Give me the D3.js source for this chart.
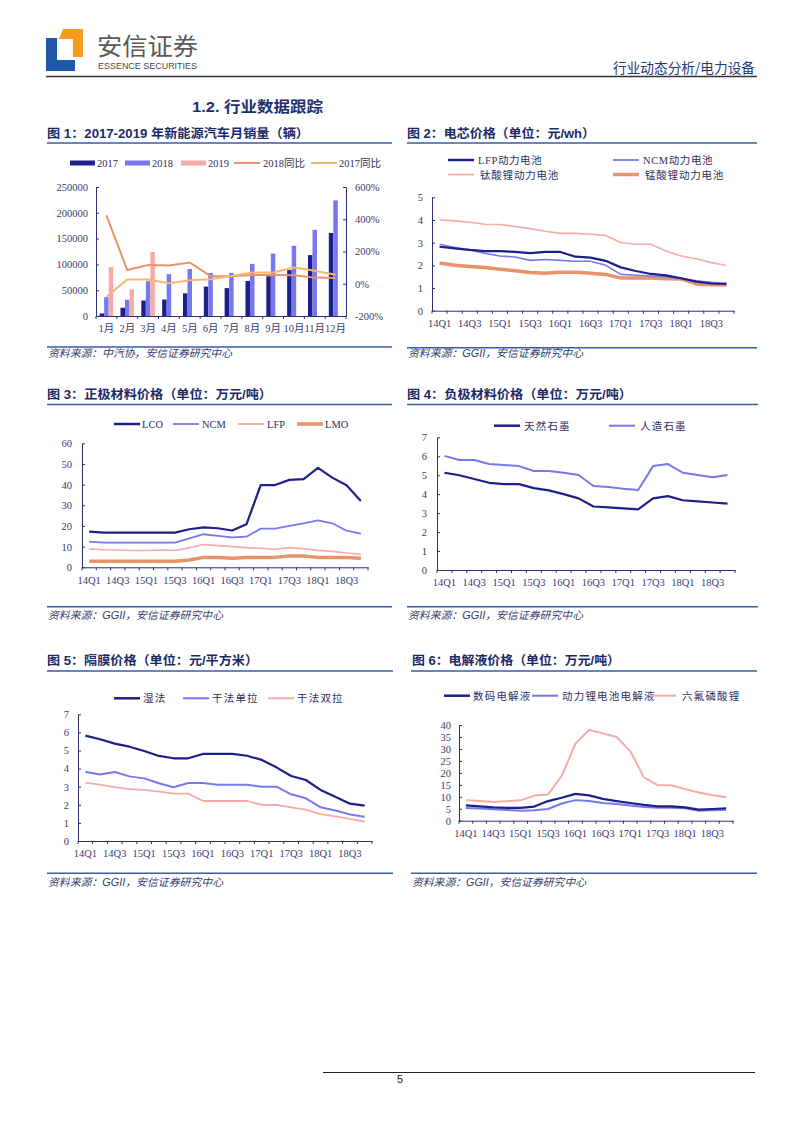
<!DOCTYPE html>
<html><head><meta charset="utf-8">
<script src="https://cdn.jsdelivr.net/npm/d3@7/dist/d3.min.js"></script>
<style>body{margin:0;background:#fff;} svg{display:block;}</style>
</head><body>
<svg id="page" width="802" height="1133"></svg>
<script>
// ---------------- DATA ----------------
const months = ["1月","2月","3月","4月","5月","6月","7月","8月","9月","10月","11月","12月"];
const sales2017 = [5000, 16000, 30000, 32000, 44000, 57000, 54000, 68000, 77000, 89000, 118000, 161000];
const sales2018 = [36500, 31500, 67500, 81000, 91000, 83500, 83500, 101000, 121000, 136000, 167000, 224000];
const sales2019 = [95000, 51500, 124000];
const yoy2018 = [424, 85, 116, 113, 132, 47, 47, 55, 55, 52, 38, 36];
const yoy2017 = [-80, 26, 26, 3, 21, 28, 48, 70, 70, 100, 80, 56];
const salesTicks = [0, 50000, 100000, 150000, 200000, 250000];
const yoyTicks = [-200, 0, 200, 400, 600];

const quarters = ["14Q1","14Q2","14Q3","14Q4","15Q1","15Q2","15Q3","15Q4","16Q1","16Q2","16Q3","16Q4","17Q1","17Q2","17Q3","17Q4","18Q1","18Q2","18Q3","18Q4"];
const quarterLabels = ["14Q1","14Q3","15Q1","15Q3","16Q1","16Q3","17Q1","17Q3","18Q1","18Q3"];

const cellLFP = [2.82, 2.75, 2.68, 2.63, 2.63, 2.59, 2.54, 2.59, 2.59, 2.38, 2.34, 2.2, 1.91, 1.75, 1.62, 1.56, 1.43, 1.28, 1.2, 1.18];
const cellNCM = [2.93, 2.78, 2.68, 2.53, 2.41, 2.37, 2.22, 2.26, 2.22, 2.18, 2.18, 2.0, 1.6, 1.56, 1.53, 1.5, 1.41, 1.32, 1.25, 1.2];
const cellLTO = [4.0, 3.96, 3.9, 3.81, 3.8, 3.71, 3.62, 3.5, 3.41, 3.41, 3.37, 3.32, 3.01, 2.93, 2.93, 2.63, 2.41, 2.29, 2.12, 1.99];
const cellLMO = [2.1, 2.0, 1.95, 1.9, 1.83, 1.76, 1.68, 1.65, 1.7, 1.69, 1.65, 1.6, 1.44, 1.44, 1.44, 1.41, 1.4, 1.18, 1.14, 1.13];
const cellTicks = [0, 1, 2, 3, 4, 5];

const cathLCO = [17.3, 16.8, 16.8, 16.8, 16.8, 16.8, 16.8, 18.4, 19.3, 18.9, 17.8, 20.8, 39.8, 39.8, 42.3, 42.7, 48.1, 43.4, 39.7, 32.1];
const cathNCM = [12.4, 11.9, 11.9, 11.9, 11.9, 11.9, 11.9, 14.0, 16.0, 15.2, 14.5, 14.8, 18.7, 18.7, 20.0, 21.3, 22.7, 21.3, 17.7, 16.3];
const cathLFP = [8.9, 8.5, 8.4, 8.1, 8.1, 8.4, 8.1, 9.5, 11.0, 10.5, 10.0, 9.5, 9.2, 8.7, 9.5, 9.0, 8.2, 7.7, 6.9, 6.3];
const cathLMO = [2.9, 2.9, 2.9, 2.9, 2.9, 2.9, 2.9, 3.5, 4.8, 4.8, 4.4, 4.8, 4.8, 4.8, 5.5, 5.5, 4.8, 4.8, 4.8, 4.4];
const cathTicks = [0, 10, 20, 30, 40, 50, 60];

const anodeNatural = [5.13, 5.0, 4.8, 4.6, 4.53, 4.53, 4.32, 4.2, 4.0, 3.78, 3.35, 3.3, 3.25, 3.2, 3.78, 3.9, 3.68, 3.62, 3.56, 3.5];
const anodeArtificial = [6.02, 5.8, 5.8, 5.59, 5.54, 5.48, 5.22, 5.22, 5.13, 5.01, 4.43, 4.38, 4.29, 4.22, 5.48, 5.59, 5.13, 5.01, 4.89, 5.01];
const anodeTicks = [0, 1, 2, 3, 4, 5, 6, 7];

const sepWet = [5.82, 5.62, 5.38, 5.21, 4.97, 4.7, 4.57, 4.57, 4.81, 4.81, 4.81, 4.71, 4.48, 4.07, 3.59, 3.37, 2.82, 2.45, 2.06, 1.95];
const sepDrySingle = [3.83, 3.68, 3.81, 3.57, 3.46, 3.19, 2.97, 3.2, 3.2, 3.11, 3.11, 3.11, 3.0, 3.0, 2.58, 2.36, 1.86, 1.69, 1.47, 1.34];
const sepDryDouble = [3.22, 3.11, 2.98, 2.87, 2.82, 2.73, 2.62, 2.62, 2.21, 2.21, 2.21, 2.21, 2.0, 1.99, 1.86, 1.73, 1.49, 1.36, 1.22, 1.07];
const sepTicks = [0, 1, 2, 3, 4, 5, 6, 7];

const elecDigital = [6.4, 6.0, 5.6, 5.4, 5.4, 5.9, 8.2, 9.6, 11.2, 10.6, 9.1, 8.2, 7.4, 6.6, 6.0, 6.0, 5.6, 4.6, 4.9, 5.2];
const elecPower = [5.3, 5.1, 4.8, 4.5, 4.2, 4.4, 4.9, 7.2, 8.6, 8.2, 7.4, 7.0, 6.4, 5.7, 5.4, 5.4, 5.2, 4.2, 4.4, 4.6];
const elecLiPF6 = [8.6, 8.2, 7.8, 8.1, 8.5, 10.5, 10.9, 18.8, 32.2, 37.9, 36.5, 35.0, 29.1, 18.1, 14.9, 14.8, 13.2, 11.8, 10.6, 9.8];
const elecTicks = [0, 5, 10, 15, 20, 25, 30, 35, 40];

// ---------------- STYLE ----------------
const SERIF = "'Liberation Serif','Times New Roman','Noto Sans CJK SC',serif";
const CJK = "'Noto Sans CJK SC',sans-serif";
const SANS = "'Liberation Sans',Arial,'Noto Sans CJK SC',sans-serif";
const NAVY = "#1c2088", BLUE = "#7878ee", PINK = "#f7aaa6", SALMON = "#e8936c", ORANGE = "#f6b66c";
const AXIS_C = "#2c3070", TEXT_C = "#3a3a70", TITLE_C = "#1b2a66", RULE_C = "#3b5aa8", SRC_C = "#333a6e";

const svg = d3.select("#page");

// ---------------- HEADER ----------------
svg.append("polygon").attr("points","46,38 57,38 57,60 75,60 75,71 46,71").attr("fill","#1f58a8");
svg.append("polygon").attr("points","63,29 83,29 83,57 73,57 73,39 59,39").attr("fill","#f39c1f");
svg.append("text").attr("x",97).attr("y",55).attr("font-family",CJK).attr("font-size",24)
  .attr("fill","#5a5a5a").attr("textLength",101).attr("lengthAdjust","spacingAndGlyphs").text("安信证券");
svg.append("text").attr("x",98).attr("y",69).attr("font-family",SANS).attr("font-size",9.5)
  .attr("fill","#4a4a4a").attr("textLength",99).attr("lengthAdjust","spacingAndGlyphs").text("ESSENCE SECURITIES");
svg.append("text").attr("x",613).attr("y",73).attr("font-family",CJK).attr("font-size",13.5)
  .attr("fill","#24387a").attr("textLength",142).attr("lengthAdjust","spacingAndGlyphs").text("行业动态分析/电力设备");
svg.append("line").attr("x1",46).attr("x2",757).attr("y1",76.5).attr("y2",76.5).attr("stroke","#333").attr("stroke-width",1.5);

svg.append("text").attr("x",192).attr("y",112).attr("font-family",SANS).attr("font-weight","bold").attr("font-size",15)
  .attr("fill","#1f3070").attr("textLength",131).attr("lengthAdjust","spacingAndGlyphs").text("1.2. 行业数据跟踪");

// footer
svg.append("line").attr("x1",323).attr("x2",755).attr("y1",1072.5).attr("y2",1072.5).attr("stroke","#222").attr("stroke-width",1);
svg.append("text").attr("x",400).attr("y",1083).attr("text-anchor","middle").attr("font-family",SANS).attr("font-size",11).attr("fill","#222").text("5");

// ---------------- HELPERS ----------------
function chartTitle(txt, x, y, w, lx1, lx2, ly) {
  svg.append("text").attr("x",x).attr("y",y).attr("font-family",SANS).attr("font-weight","bold").attr("font-size",12.5)
    .attr("fill",TITLE_C).attr("textLength",w).attr("lengthAdjust","spacingAndGlyphs").text(txt);
  svg.append("line").attr("x1",lx1).attr("x2",lx2).attr("y1",ly).attr("y2",ly).attr("stroke",RULE_C).attr("stroke-width",1.4);
}
function source(parts, x, y, w, lx1, lx2, ly) {
  svg.append("line").attr("x1",lx1).attr("x2",lx2).attr("y1",ly).attr("y2",ly).attr("stroke",RULE_C).attr("stroke-width",1.4);
  const t = svg.append("text").attr("x",x).attr("y",y).attr("font-size",10.5).attr("font-style","italic")
    .attr("fill",SRC_C).attr("textLength",w).attr("lengthAdjust","spacingAndGlyphs");
  parts.forEach(p => t.append("tspan").attr("font-family", p.latin ? SANS : CJK).text(p.t));
}
function legendItem(g, it) {
  if (it.rect) {
    g.append("rect").attr("x",it.x).attr("y",it.y-2.5).attr("width",25).attr("height",5).attr("fill",it.color);
  } else {
    g.append("line").attr("x1",it.x).attr("x2",it.x+26).attr("y1",it.y).attr("y2",it.y)
      .attr("stroke",it.color).attr("stroke-width",it.w);
  }
  g.append("text").attr("x",it.tx).attr("y",it.y+4).attr("font-family",SERIF).attr("font-size",10.5)
    .attr("letter-spacing",it.ls||0).attr("fill","#2e2e5e").text(it.label);
}
function styleAxis(sel) {
  sel.select(".domain").attr("stroke",AXIS_C).attr("stroke-width",1);
  sel.selectAll(".tick line").attr("stroke",AXIS_C);
  sel.selectAll("text").attr("font-family",SERIF).attr("font-size",10.5).attr("fill",TEXT_C);
}

function lineChart(o) {
  const g = svg.append("g");
  const x = d3.scaleBand().domain(quarters).range([o.x0, o.x1]);
  const y = d3.scaleLinear().domain([o.ticks[0], o.ticks[o.ticks.length-1]]).range([o.yb, o.yt]);
  const ya = d3.axisLeft(y).tickValues(o.ticks).tickFormat(d3.format("d"))
    .tickSizeInner(-3).tickSizeOuter(0).tickPadding(o.pad || 8);
  g.append("g").attr("transform",`translate(${o.x0},0)`).call(ya).call(styleAxis);
  const xa = d3.axisBottom(x).tickValues(quarterLabels).tickSize(0).tickPadding(9);
  g.append("g").attr("transform",`translate(0,${o.yb})`).call(xa).call(styleAxis);
  const bounds = quarters.map(q => x(q)).concat([x.range()[1]]);
  g.selectAll(".bt").data(bounds).join("line").attr("x1",d=>d).attr("x2",d=>d)
    .attr("y1",o.yb).attr("y2",o.yb+3).attr("stroke",AXIS_C);
  const line = d3.line().x((d,i)=>x(quarters[i]) + x.bandwidth()/2).y(d=>y(d));
  o.series.forEach(s => {
    g.append("path").datum(s.values).attr("d",line).attr("fill","none")
      .attr("stroke",s.color).attr("stroke-width",s.w).attr("stroke-linejoin","round");
  });
  o.legend.forEach(it => legendItem(g, it));
}

// ---------------- CHART 1 ----------------
chartTitle("图 1：2017-2019 年新能源汽车月销量（辆）", 47, 138, 262, 47, 392, 143);
(function(){
  const g = svg.append("g");
  const x0 = 96, x1 = 346, yb = 316, yt = 187;
  const x = d3.scaleBand().domain(months).range([x0, x1]);
  const gw = x.bandwidth()*0.65;
  const xs = d3.scaleBand().domain(["2017","2018","2019"]).range([0, gw]);
  const yL = d3.scaleLinear().domain([0, 250000]).range([yb, yt]);
  const yR = d3.scaleLinear().domain([-200, 600]).range([yb, yt]);
  const seriesBars = [["2017", sales2017, NAVY], ["2018", sales2018, BLUE], ["2019", sales2019, PINK]];
  seriesBars.forEach(([k, vals, c]) => {
    g.selectAll(null).data(vals).join("rect")
      .attr("x",(d,i)=>x(months[i]) + (x.bandwidth()-gw)/2 + xs(k))
      .attr("width",xs.bandwidth())
      .attr("y",d=>yL(d)).attr("height",d=>yb - yL(d)).attr("fill",c);
  });
  const line = d3.line().x((d,i)=>x(months[i]) + x.bandwidth()/2).y(d=>yR(d));
  g.append("path").datum(yoy2018).attr("d",line).attr("fill","none").attr("stroke",SALMON).attr("stroke-width",2);
  g.append("path").datum(yoy2017).attr("d",line).attr("fill","none").attr("stroke",ORANGE).attr("stroke-width",2);
  const la = d3.axisLeft(yL).tickValues(salesTicks).tickSizeInner(-3).tickSizeOuter(0).tickPadding(8).tickFormat(d3.format("d"));
  g.append("g").attr("transform",`translate(${x0},0)`).call(la).call(styleAxis);
  const ra = d3.axisRight(yR).tickValues(yoyTicks).tickSizeInner(-3).tickSizeOuter(0).tickPadding(9).tickFormat(d=>d+"%");
  g.append("g").attr("transform",`translate(${x1},0)`).call(ra).call(styleAxis);
  const ba = d3.axisBottom(x).tickSize(0).tickPadding(9);
  g.append("g").attr("transform",`translate(0,${yb})`).call(ba).call(styleAxis);
  const bounds = months.map(m => x(m)).concat([x1]);
  g.selectAll(".bt").data(bounds).join("line").attr("x1",d=>d).attr("x2",d=>d)
    .attr("y1",yb).attr("y2",yb+3).attr("stroke",AXIS_C);
  [{rect:true,x:70,y:163,color:NAVY,tx:97,label:"2017"},
   {rect:true,x:125,y:163,color:BLUE,tx:152,label:"2018"},
   {rect:true,x:181,y:163,color:PINK,tx:208,label:"2019"},
   {x:234,y:163,color:SALMON,w:2,tx:263,label:"2018同比"},
   {x:311,y:163,color:ORANGE,w:2,tx:339,label:"2017同比"}].forEach(it => legendItem(g, it));
})();
source([{t:"资料来源：中汽协，安信证券研究中心"}], 48, 357, 184, 47, 392, 347);

// ---------------- CHART 2 ----------------
chartTitle("图 2：电芯价格（单位：元/wh）", 407, 138, 188, 407, 757, 143);
lineChart({x0:432, x1:734, yt:197.3, yb:310.7, ticks:cellTicks, pad:9,
  series:[{values:cellLTO,color:PINK,w:1.6},{values:cellLMO,color:SALMON,w:3.5},
          {values:cellNCM,color:BLUE,w:1.6},{values:cellLFP,color:NAVY,w:2.2}],
  legend:[{x:448,y:160,color:NAVY,w:2.5,tx:478,label:"LFP动力电池",ls:0.6},
          {x:613,y:160,color:BLUE,w:1.8,tx:643,label:"NCM动力电池",ls:0.6},
          {x:448,y:174.5,color:PINK,w:1.8,tx:480,label:"钛酸锂动力电池",ls:0.8},
          {x:613,y:174.5,color:SALMON,w:3.5,tx:645,label:"锰酸锂动力电池",ls:0.8}]});
source([{t:"资料来源："},{t:"GGII",latin:true},{t:"，安信证券研究中心"}], 408, 357, 175, 407, 757, 347.7);

// ---------------- CHART 3 ----------------
chartTitle("图 3：正极材料价格（单位：万元/吨）", 47, 398.5, 225, 47, 392, 404.5);
lineChart({x0:82, x1:368, yt:443.3, yb:567.3, ticks:cathTicks, pad:10,
  series:[{values:cathLMO,color:SALMON,w:3.5},{values:cathLFP,color:PINK,w:1.6},
          {values:cathNCM,color:BLUE,w:1.8},{values:cathLCO,color:NAVY,w:2.2}],
  legend:[{x:114,y:424,color:NAVY,w:2.5,tx:142,label:"LCO"},
          {x:173,y:424,color:BLUE,w:1.8,tx:202,label:"NCM"},
          {x:238,y:424,color:PINK,w:1.8,tx:267,label:"LFP"},
          {x:297,y:424,color:SALMON,w:3.5,tx:325,label:"LMO"}]});
source([{t:"资料来源："},{t:"GGII",latin:true},{t:"，安信证券研究中心"}], 48, 619, 175, 47, 392, 606.7);

// ---------------- CHART 4 ----------------
chartTitle("图 4：负极材料价格（单位：万元/吨）", 407, 398.5, 225, 407, 758, 404.5);
lineChart({x0:437, x1:735, yt:437.3, yb:570, ticks:anodeTicks, pad:10,
  series:[{values:anodeArtificial,color:BLUE,w:2},{values:anodeNatural,color:NAVY,w:2.2}],
  legend:[{x:494,y:425.7,color:NAVY,w:2.5,tx:524,label:"天然石墨",ls:1.2},
          {x:609,y:425.7,color:BLUE,w:2,tx:640,label:"人造石墨",ls:1.2}]});
source([{t:"资料来源："},{t:"GGII",latin:true},{t:"，安信证券研究中心"}], 408, 619, 175, 407, 758, 606.7);

// ---------------- CHART 5 ----------------
chartTitle("图 5：隔膜价格（单位：元/平方米）", 47, 665, 211, 47, 393, 671);
lineChart({x0:78, x1:372, yt:714.3, yb:841, ticks:sepTicks, pad:9,
  series:[{values:sepDryDouble,color:PINK,w:1.8},{values:sepDrySingle,color:BLUE,w:2},{values:sepWet,color:NAVY,w:2.2}],
  legend:[{x:114,y:698.3,color:NAVY,w:2.5,tx:143,label:"湿法",ls:1.2},
          {x:183,y:698.3,color:BLUE,w:2,tx:212,label:"干法单拉",ls:1.2},
          {x:268,y:698.3,color:PINK,w:2,tx:297,label:"干法双拉",ls:1.2}]});
source([{t:"资料来源："},{t:"GGII",latin:true},{t:"，安信证券研究中心"}], 48, 886, 175, 47, 393, 873.3);

// ---------------- CHART 6 ----------------
chartTitle("图 6：电解液价格（单位：万元/吨）", 412, 665, 208, 411, 757, 671);
lineChart({x0:459, x1:733, yt:725, yb:820.7, ticks:elecTicks, pad:8,
  series:[{values:elecLiPF6,color:PINK,w:2},{values:elecPower,color:BLUE,w:2},{values:elecDigital,color:NAVY,w:2.2}],
  legend:[{x:444,y:695.7,color:NAVY,w:2.5,tx:473,label:"数码电解液",ls:1.2},
          {x:532,y:695.7,color:BLUE,w:2,tx:562,label:"动力锂电池电解液",ls:1.2},
          {x:650,y:695.7,color:PINK,w:2,tx:682,label:"六氟磷酸锂",ls:1.2}]});
source([{t:"资料来源："},{t:"GGII",latin:true},{t:"，安信证券研究中心"}], 412, 886, 174, 411, 757, 873.3);
</script>
</body></html>
